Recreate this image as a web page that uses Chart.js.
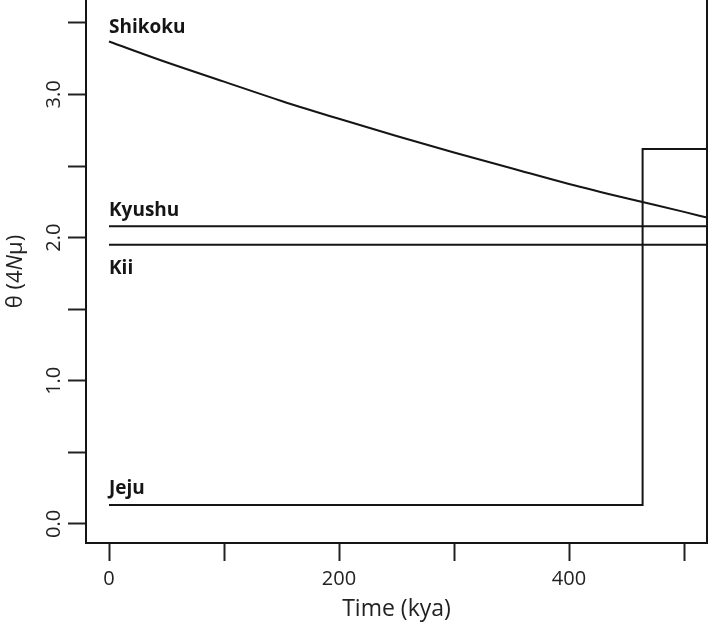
<!DOCTYPE html>
<html>
<head>
<meta charset="utf-8">
<script src="https://cdn.jsdelivr.net/npm/chart.js@4.4.1/dist/chart.umd.min.js"></script>
<style>
  html, body { margin: 0; padding: 0; background: #fff; }
  #c { display: block; }
</style>
</head>
<body>
<canvas id="c" width="709" height="628"></canvas>
<script>
// valores
const tempos = [0, 50, 100, 150, 200, 250, 300, 350, 400, 450, 500, 520];
const shikoku = [3.37, 3.225, 3.09, 2.955, 2.83, 2.71, 2.595, 2.485, 2.375, 2.275, 2.18, 2.14];
const kyushuX = [0, 520];
const kyushu = [2.08, 2.08];
const kiiX = [0, 520];
const kii = [1.95, 1.95];
const jejuX = [0, 464, 464, 520];
const jeju = [0.133, 0.133, 2.62, 2.62];

const xTicks = [0, 100, 200, 300, 400, 500];
const xRotulos = [0, 200, 400];
const yTicks = [0, 0.5, 1, 1.5, 2, 2.5, 3, 3.5];
const yRotulos = ["0.0", "1.0", "2.0", "3.0"];

// rótulos das linhas: nome, valor da série, deslocamento em px
const nomes = [
    { texto: "Shikoku", y: shikoku[0], dy: -9 },
    { texto: "Kyushu", y: kyushu[0], dy: -10 },
    { texto: "Kii", y: kii[0], dy: 29 },
    { texto: "Jeju", y: jeju[0], dy: -11 }
];

const COR = "#151515";
const FONTE = "'Open Sans', 'DejaVu Sans', sans-serif";

function pares(xs, ys) {
    return xs.map((x, i) => ({ x: x, y: ys[i] }));
}

function serie(dados, suave) {
    return {
        data: dados,
        borderColor: COR,
        borderWidth: 2,
        pointRadius: 0,
        tension: suave ? 0.4 : 0,
        cubicInterpolationMode: suave ? "monotone" : "default",
        fill: false
    };
}

// caixa, rótulos das linhas, rótulos do eixo y e título do eixo y
const extras = {
    id: "extras",
    afterDraw(chart) {
        const ctx = chart.ctx;
        const a = chart.chartArea;
        const sx = chart.scales.x;
        const sy = chart.scales.y;
        ctx.save();
        ctx.strokeStyle = COR;
        ctx.lineWidth = 2;
        ctx.beginPath();
        ctx.moveTo(a.left, a.top);
        ctx.lineTo(a.left, a.bottom);
        ctx.lineTo(a.right, a.bottom);
        ctx.lineTo(a.right, a.top);
        ctx.stroke();

        ctx.fillStyle = COR;
        ctx.font = "bold 19px " + FONTE;
        ctx.textAlign = "left";
        ctx.textBaseline = "alphabetic";
        nomes.forEach(n => {
            ctx.fillText(n.texto, sx.getPixelForValue(0), sy.getPixelForValue(n.y) + n.dy);
        });

        // rótulos do eixo y, girados como no R
        ctx.font = "20px " + FONTE;
        ctx.fillStyle = "#222";
        ctx.textAlign = "center";
        ctx.textBaseline = "middle";
        yRotulos.forEach(r => {
            ctx.save();
            ctx.translate(53, sy.getPixelForValue(parseFloat(r)));
            ctx.rotate(-Math.PI / 2);
            ctx.fillText(r, 0, 1);
            ctx.restore();
        });

        // título do eixo y com N em itálico
        const partes = [
            { t: "\u03B8 (4", f: "22px " + FONTE },
            { t: "N", f: "italic 22px " + FONTE },
            { t: "\u03BC)", f: "22px " + FONTE }
        ];
        let total = 0;
        partes.forEach(p => { ctx.font = p.f; p.w = ctx.measureText(p.t).width; total += p.w; });
        ctx.save();
        ctx.translate(16, (a.top + a.bottom) / 2);
        ctx.rotate(-Math.PI / 2);
        ctx.textAlign = "left";
        let px = -total / 2;
        partes.forEach(p => {
            ctx.font = p.f;
            ctx.fillText(p.t, px, 0);
            px += p.w;
        });
        ctx.restore();
        ctx.restore();
    }
};

const ctx = document.getElementById("c").getContext("2d");
new Chart(ctx, {
    type: "line",
    data: {
        datasets: [
            serie(pares(tempos, shikoku), true),
            serie(pares(kyushuX, kyushu)),
            serie(pares(kiiX, kii)),
            serie(pares(jejuX, jeju))
        ]
    },
    options: {
        responsive: false,
        animation: false,
        layout: { padding: { left: 0, right: 2, top: 0, bottom: 0 } },
        plugins: {
            legend: { display: false },
            tooltip: { enabled: false }
        },
        scales: {
            x: {
                type: "linear",
                min: -20,
                max: 520,
                afterBuildTicks: s => { s.ticks = xTicks.map(v => ({ value: v })); },
                afterFit: s => { s.height = 85; },
                border: { display: false },
                grid: {
                    drawOnChartArea: false,
                    drawTicks: true,
                    tickLength: 18,
                    tickColor: "#222",
                    tickWidth: 2
                },
                ticks: {
                    autoSkip: false,
                    maxRotation: 0,
                    padding: 6,
                    color: "#222",
                    font: { family: FONTE, size: 20 },
                    callback: v => (xRotulos.includes(v) ? String(v) : "")
                },
                title: {
                    display: true,
                    text: "Time (kya)",
                    color: "#222",
                    font: { family: FONTE, size: 23 },
                    padding: { top: 0, bottom: 5 }
                }
            },
            y: {
                type: "linear",
                min: -0.133,
                max: 3.66,
                afterBuildTicks: s => { s.ticks = yTicks.map(v => ({ value: v })); },
                afterFit: s => { s.width = 86; },
                border: { display: false },
                grid: {
                    drawOnChartArea: false,
                    drawTicks: true,
                    tickLength: 18,
                    tickColor: "#222",
                    tickWidth: 2
                },
                ticks: { display: false }
            }
        }
    },
    plugins: [extras]
});
</script>
</body>
</html>
